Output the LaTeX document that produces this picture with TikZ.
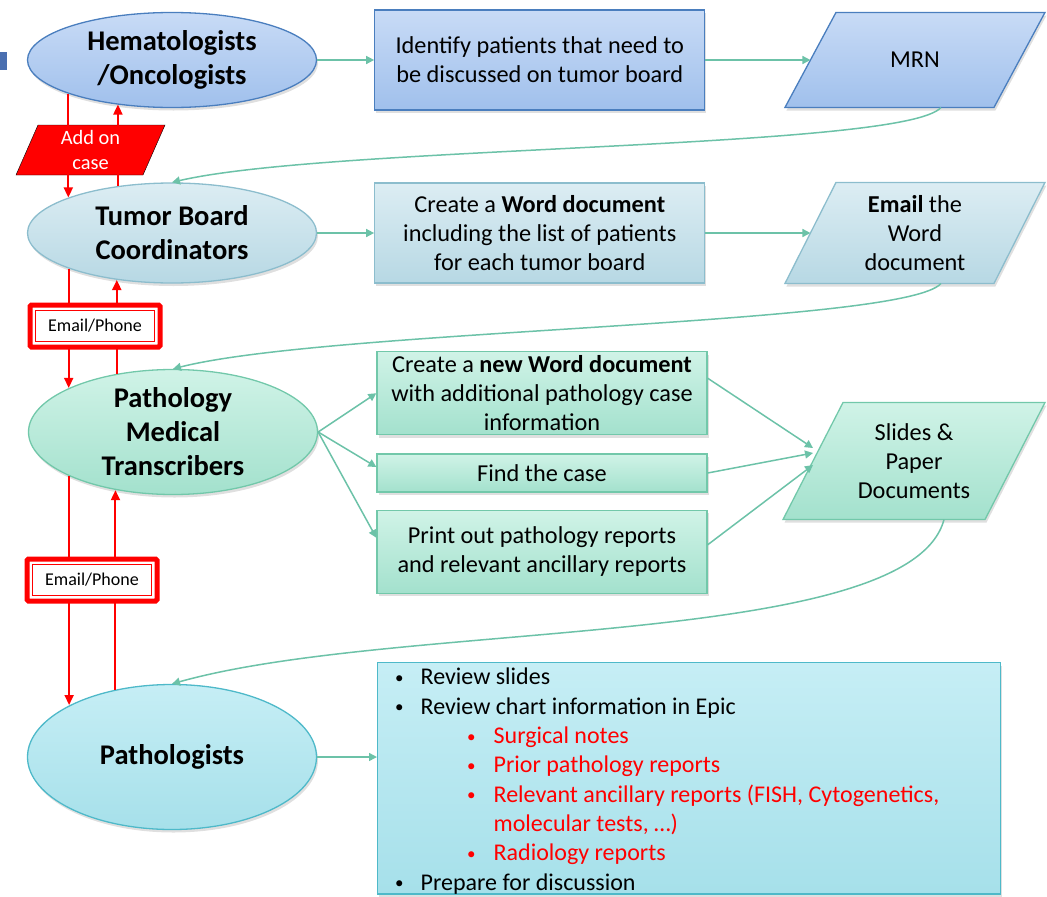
\documentclass[tikz,border=0pt]{standalone}
\usepackage{fontspec}
\setmainfont{Carlito}
\usepackage{enumitem}
\usetikzlibrary{positioning}
\usetikzlibrary{shapes.geometric}
\usetikzlibrary{arrows.meta}
\usetikzlibrary{shadows}

\definecolor{bluetop}{HTML}{C8DBF6}
\definecolor{bluebot}{HTML}{A0C0EC}
\definecolor{blueline}{HTML}{4A7EBE}
\definecolor{greytop}{HTML}{DCEDF3}
\definecolor{greybot}{HTML}{B7D8E4}
\definecolor{greyline}{HTML}{8CBDCD}
\definecolor{greentop}{HTML}{D0F3E7}
\definecolor{greenbot}{HTML}{A3E1CD}
\definecolor{greenline}{HTML}{72C8AA}
\definecolor{cyantop}{HTML}{C6EEF5}
\definecolor{cyanbot}{HTML}{A6E0EA}
\definecolor{cyanline}{HTML}{4EB9C9}
\definecolor{flowgreen}{HTML}{6CC2A8}
\definecolor{pingred}{HTML}{FF0000}
\definecolor{slidemark}{HTML}{4A6FB0}

\pgfdeclarelayer{back}
\pgfsetlayers{back,main}

\newcommand\dotlabel{\raisebox{1.5pt}{\fontsize{17}{17}\selectfont\textbullet}}
\setlist[itemize,1]{label=\dotlabel, leftmargin=43pt, labelsep=17pt, topsep=0pt, partopsep=0pt, itemsep=0pt, parsep=0pt}
\setlist[itemize,2]{label=\dotlabel, leftmargin=73pt, labelsep=18pt, topsep=0pt, partopsep=0pt, itemsep=0pt, parsep=0pt, before=\color{pingred}}

% parallelogram round a text node: node, half slant, style
\newcommand\slantbox[3]{%
  \draw[#3] ([xshift=-#2]#1.south west) -- ([xshift=-#2]#1.south east)
    -- ([xshift=#2]#1.north east) -- ([xshift=#2]#1.north west) -- cycle;}

\tikzset{
  soft/.style={drop shadow={shadow xshift=1.5pt, shadow yshift=-3pt, opacity=.25}},
  role/.style={ellipse, soft, line width=1.3pt, minimum width=289pt, minimum height=100pt,
    inner sep=-12pt, align=center, font=\fontsize{28.5}{34}\selectfont\bfseries},
  taskbox/.style={rectangle, soft, line width=1.3pt, minimum width=330pt, minimum height=100pt,
    inner ysep=1pt, align=center, font=\fontsize{24.3}{29}\selectfont},
  datatext/.style={rectangle, minimum width=209pt, minimum height=95pt, inner sep=0pt,
    outer sep=0pt, align=center, font=\fontsize{24.3}{29}\selectfont},
  blueset/.style={draw=blueline, top color=bluetop, bottom color=bluebot},
  greyset/.style={draw=greyline, top color=greytop, bottom color=greybot},
  greenset/.style={draw=greenline, top color=greentop, bottom color=greenbot},
  cyanset/.style={draw=cyanline, top color=cyantop, bottom color=cyanbot},
  datashape/.style={soft, line width=1.3pt, line join=miter},
  flow/.style={draw=flowgreen, line width=1.5pt, -{Triangle[width=8pt,length=8pt]}},
  ping/.style={draw=pingred, line width=2pt, -{Triangle[width=9pt,length=10pt]}},
  addon/.style={rectangle, minimum width=127pt, minimum height=50pt, inner sep=0pt,
    outer sep=0pt, text=white, align=center, font=\fontsize{20.4}{25}\selectfont},
  phonebox/.style={draw=pingred, line width=5pt, fill=white, rounded corners=1.5pt,
    minimum width=130pt, minimum height=42pt, font=\fontsize{18}{21}\selectfont},
  listbox/.style={rectangle, soft, line width=1.3pt, text width=623pt, inner xsep=0pt,
    inner ysep=0pt, font=\fontsize{24}{29.3}\selectfont},
}

\begin{document}
\begin{tikzpicture}[x=1pt, y=-1pt]
\useasboundingbox (0,0) rectangle (1047,897);
\fill[slidemark] (0,52) rectangle (7,70);

% who does what
\node[role, blueset, minimum height=95pt] (hem) at (172,60) {Hematologists\\/Oncologists};
\node[role, greyset] (tbc) at (172,233) {Tumor Board\\Coordinators};
\node[role, greenset, minimum height=125pt] (pmt) at (173,432) {Pathology\\Medical\\Transcribers};
\node[role, cyanset, minimum height=145pt] (pat) at (172,757) {Pathologists};

\node[taskbox, blueset, right=57pt of hem] (idt) {Identify patients that need to\\be discussed on tumor board};
\node[datatext, right=105pt of idt] (mrn) {MRN};

\node[taskbox, greyset, right=57pt of tbc] (cwd) {Create a \textbf{Word document}\\including the list of patients\\for each tumor board};
\node[datatext, minimum height=101pt, right=105pt of cwd] (eml) {\textbf{Email} the\\Word\\document};

\node[taskbox, greenset, minimum height=38pt] (fnd) at (542,473) {Find the case};
\node[taskbox, greenset, minimum height=83pt, above=18pt of fnd] (nwd) {Create a \textbf{new Word document}\\with additional pathology case\\information};
\node[taskbox, greenset, minimum height=83pt, below=17pt of fnd] (prt) {Print out pathology reports\\and relevant ancillary reports};
\node[datatext, minimum width=202pt, minimum height=117pt] (sld) at (914,461) {Slides \&\\Paper\\Documents};

\node[listbox, cyanset, anchor=north west] (tsk) at (377,662) {%
\spaceskip=0pt\xspaceskip=0pt
\vspace*{-7pt}
\begin{itemize}
\item Review slides
\item Review chart information in Epic
  \begin{itemize}
  \item Surgical notes
  \item Prior pathology reports
  \item Relevant ancillary reports (FISH, Cytogenetics,\newline molecular tests, …)
  \item Radiology reports
  \end{itemize}
\item Prepare for discussion
\end{itemize}};

\begin{pgfonlayer}{back}
\slantbox{mrn}{25.5pt}{datashape, blueset}
\slantbox{eml}{25.5pt}{datashape, greyset}
\slantbox{sld}{30pt}{datashape, greenset}
\end{pgfonlayer}

% flow
\draw[flow] (hem) -- (idt);
\draw[flow] (idt) -- (mrn);
\draw[flow] ([xshift=26pt]mrn.south) .. controls +(-37,42) and +(158,-37) .. (tbc.north);
\draw[flow] (tbc) -- (cwd);
\draw[flow] (cwd) -- (eml);
\draw[flow] ([xshift=26pt]eml.south) .. controls +(-37,42) and +(158,-40) .. (pmt.north);
\draw[flow] (pmt.east) -- (nwd.west);
\draw[flow] (pmt.east) -- ([yshift=6pt]fnd.west);
\draw[flow] (pmt.east) -- ([yshift=14pt]prt.west);
\draw[flow] ([yshift=15pt]nwd.east) -- ([yshift=13pt]sld.west);
\draw[flow] (fnd.east) -- ([yshift=8pt]sld.west);
\draw[flow] ([yshift=7pt]prt.east) -- ([yshift=-4pt]sld.west);
\draw[flow] ([xshift=30pt]sld.south) .. controls +(-34,130) and +(228,-64) .. (pat.north);
\draw[flow] (pat.east) -- (pat.east -| tsk.west);

% back and forth
\draw[ping] (hem.198) -- (hem.198 |- tbc.161);
\draw[ping] (tbc.139) -- (tbc.139 |- hem.219);
\draw[ping] (tbc.199) -- (tbc.199 |- pmt.157);
\draw[ping] (pmt.134) -- (pmt.134 |- tbc.221);
\draw[ping] (pmt.203) -- (pmt.203 |- pat.153);
\draw[ping] (pat.130) -- (pat.130 |- pmt.226);

\node[addon] (add) at (90.5,150) {Add on\\case};
\begin{pgfonlayer}{back}
\slantbox{add}{11pt}{fill=pingred}
\end{pgfonlayer}
\node[phonebox] (ph1) at (95,326) {Email/Phone};
\node[phonebox] (ph2) at (92,580) {Email/Phone};
\foreach \b in {ph1,ph2}
  \draw[pingred, line width=1.5pt] ([shift={(8pt,-8pt)}]\b.north west) rectangle ([shift={(-8pt,8pt)}]\b.south east);
\end{tikzpicture}
\end{document}
